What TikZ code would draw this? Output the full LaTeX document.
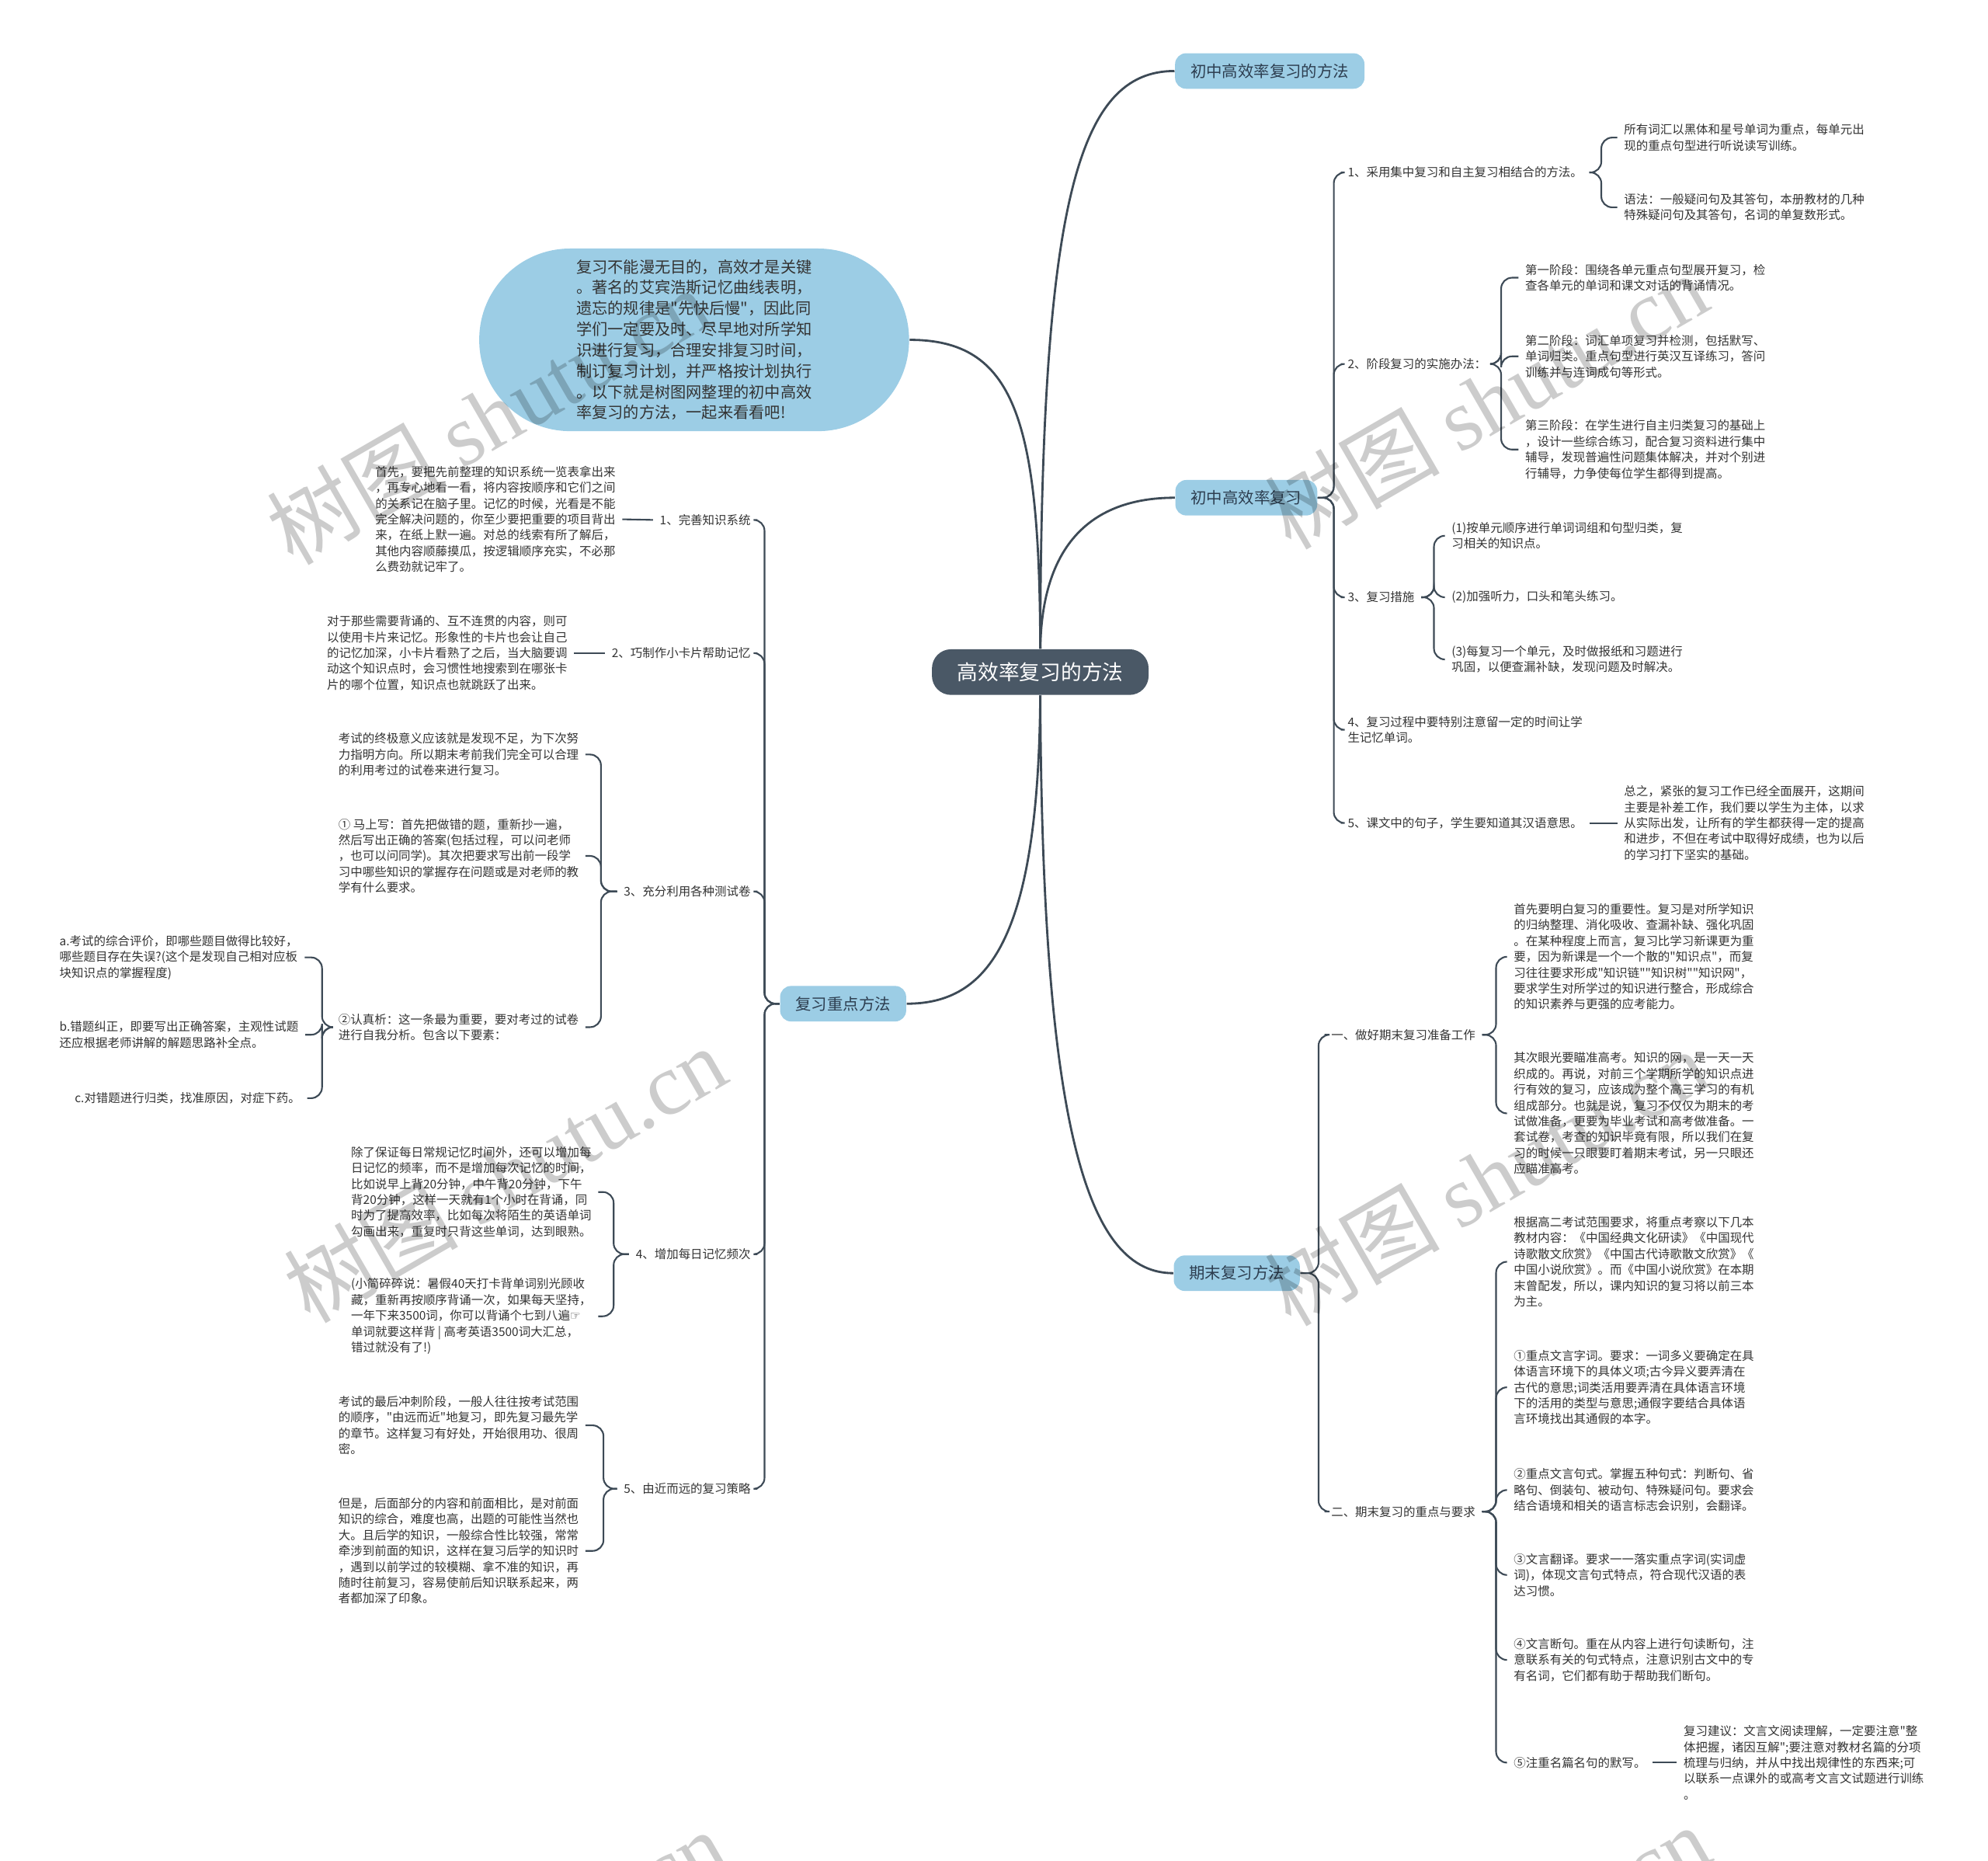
\documentclass[tikz,border=0pt]{standalone}
\usepackage{fontspec}
\setmainfont{Noto Sans CJK SC}[Ligatures=TeXOff]
\newfontfamily\symf{DejaVu Sans}
\newfontfamily\wmserif{Liberation Serif}
\definecolor{linec}{HTML}{3D4A56}
\definecolor{mainc}{HTML}{4A5866}
\definecolor{bluec}{HTML}{9CCDE5}
\definecolor{txtc}{HTML}{333333}
\definecolor{lonec}{HTML}{2D3E50}
\tikzset{
  txt/.style={font=\fontsize{4.4}{5.8}\selectfont, text=txtc, align=left, inner sep=0pt, outer xsep=2.5pt},
  tw/.style={txt, anchor=west, xshift=-2.5pt},
  te/.style={txt, anchor=east, xshift=2.5pt},
  lone/.style={rounded corners=4pt, fill=bluec, text=lonec, font=\fontsize{5.8}{7}\selectfont, minimum height=0.457cm, inner xsep=0.2cm, inner ysep=0pt},
  conn/.style={draw=linec, line width=0.6pt, rounded corners=4pt},
  mconn/.style={draw=linec, line width=0.8pt},
  wm/.style={text=black, opacity=0.2, rotate=30, font=\fontsize{32}{36}\selectfont, inner sep=0pt}
}
\begin{document}
\begin{tikzpicture}[x=0.0163265cm, y=-0.0163265cm]
\useasboundingbox (0,0) rectangle (1568,1467);

% root and level one
\node[fill=mainc, text=white, rounded corners=7pt, font=\fontsize{7.6}{9}\selectfont, minimum width=2.79cm, minimum height=0.588cm, inner sep=0pt] (root) at (820.5,530) {高效率复习的方法};
\node[lone] (A) at (1001.5,56) {初中高效率复习的方法};
\node[lone] (B) at (983,392.5) {初中高效率复习};
\node[lone] (C) at (975.5,1004) {期末复习方法};
\node[lone] (D) at (665,791.5) {复习重点方法};
\node[fill=bluec, rounded corners=1.17cm, minimum width=5.535cm, minimum height=2.351cm, inner sep=0pt, align=left, text=txtc, font=\fontsize{5.75}{7.64}\selectfont] (bub) at (547.5,268) {复习不能漫无目的，高效才是关键\\。著名的艾宾浩斯记忆曲线表明，\\遗忘的规律是"先快后慢"，因此同\\学们一定要及时、尽早地对所学知\\识进行复习，合理安排复习时间，\\制订复习计划，并严格按计划执行\\。以下就是树图网整理的初中高效\\率复习的方法，一起来看看吧!};

\draw[mconn] (root.north) .. controls (821,160) and (850,56) .. (A.west);
\draw[mconn] (root.north) .. controls (822,420) and (870,392.5) .. (B.west);
\draw[mconn] (root.south) .. controls (822,900) and (860,1004) .. (C.west);
\draw[mconn] (root.south) .. controls (819,740) and (780,791.5) .. (D.east);
\draw[mconn] (bub.east) .. controls (800,268) and (820,330) .. (root.north);

% ---------- B branch ----------
\node[tw] (b1) at (1063,136) {1、采用集中复习和自主复习相结合的方法。};
\node[tw] (b2) at (1063,287) {2、阶段复习的实施办法：};
\node[tw] (b3) at (1063,471) {3、复习措施};
\node[tw] (b4) at (1063,575.5) {4、复习过程中要特别注意留一定的时间让学\\生记忆单词。};
\node[tw] (b5) at (1063,649) {5、课文中的句子，学生要知道其汉语意思。};
\coordinate (sB) at (1052,0);
\foreach \c in {b1,b2,b3,b4,b5} \draw[conn] (B.east) -- (sB |- B.east) -- (sB |- \c.west) -- (\c.west);

\node[tw] (b1a) at (1281,108.5) {所有词汇以黑体和星号单词为重点，每单元出\\现的重点句型进行听说读写训练。};
\node[tw] (b1b) at (1281,163.5) {语法：一般疑问句及其答句，本册教材的几种\\特殊疑问句及其答句，名词的单复数形式。};
\coordinate (s1) at (1263,0);
\foreach \c in {b1a,b1b} \draw[conn] (b1.east) -- (s1 |- b1.east) -- (s1 |- \c.west) -- (\c.west);

\node[tw] (b2a) at (1203,219) {第一阶段：围绕各单元重点句型展开复习，检\\查各单元的单词和课文对话的背诵情况。};
\node[tw] (b2b) at (1203,281) {第二阶段：词汇单项复习并检测，包括默写、\\单词归类。重点句型进行英汉互译练习，答问\\训练并与连词成句等形式。};
\node[tw] (b2c) at (1203,354.5) {第三阶段：在学生进行自主归类复习的基础上\\，设计一些综合练习，配合复习资料进行集中\\辅导，发现普遍性问题集体解决，并对个别进\\行辅导，力争使每位学生都得到提高。};
\coordinate (s2) at (1184,0);
\foreach \c in {b2a,b2b,b2c} \draw[conn] (b2.east) -- (s2 |- b2.east) -- (s2 |- \c.west) -- (\c.west);

\node[tw] (b3a) at (1145,422.5) {(1)按单元顺序进行单词词组和句型归类，复\\习相关的知识点。};
\node[tw] (b3b) at (1145,471) {(2)加强听力，口头和笔头练习。};
\node[tw] (b3c) at (1145,520) {(3)每复习一个单元，及时做报纸和习题进行\\巩固，以便查漏补缺，发现问题及时解决。};
\coordinate (s3) at (1131,0);
\foreach \c in {b3a,b3b,b3c} \draw[conn] (b3.east) -- (s3 |- b3.east) -- (s3 |- \c.west) -- (\c.west);

\node[tw] (b5a) at (1281,649) {总之，紧张的复习工作已经全面展开，这期间\\主要是补差工作，我们要以学生为主体，以求\\从实际出发，让所有的学生都获得一定的提高\\和进步，不但在考试中取得好成绩，也为以后\\的学习打下坚实的基础。};
\draw[conn] (b5.east) -- (b5a.west);

% ---------- C branch ----------
\node[tw] (c1) at (1050,816) {一、做好期末复习准备工作};
\node[tw] (c2) at (1050,1192) {二、期末复习的重点与要求};
\coordinate (sC) at (1040,0);
\foreach \c in {c1,c2} \draw[conn] (C.east) -- (sC |- C.east) -- (sC |- \c.west) -- (\c.west);

\node[tw] (c1a) at (1194,754.5) {首先要明白复习的重要性。复习是对所学知识\\的归纳整理、消化吸收、查漏补缺、强化巩固\\。在某种程度上而言，复习比学习新课更为重\\要，因为新课是一个一个散的"知识点"，而复\\习往往要求形成"知识链""知识树""知识网"，\\要求学生对所学过的知识进行整合，形成综合\\的知识素养与更强的应考能力。};
\node[tw] (c1b) at (1194,878) {其次眼光要瞄准高考。知识的网，是一天一天\\织成的。再说，对前三个学期所学的知识点进\\行有效的复习，应该成为整个高三学习的有机\\组成部分。也就是说，复习不仅仅为期末的考\\试做准备，更要为毕业考试和高考做准备。一\\套试卷，考查的知识毕竟有限，所以我们在复\\习的时候一只眼要盯着期末考试，另一只眼还\\应瞄准高考。};
\coordinate (sc1) at (1180,0);
\foreach \c in {c1a,c1b} \draw[conn] (c1.east) -- (sc1 |- c1.east) -- (sc1 |- \c.west) -- (\c.west);

\node[tw] (c2a) at (1194,995) {根据高二考试范围要求，将重点考察以下几本\\教材内容：《中国经典文化研读》《中国现代\\诗歌散文欣赏》《中国古代诗歌散文欣赏》《\\中国小说欣赏》。而《中国小说欣赏》在本期\\末曾配发，所以，课内知识的复习将以前三本\\为主。};
\node[tw] (c2b) at (1194,1094) {①重点文言字词。要求：一词多义要确定在具\\体语言环境下的具体义项;古今异义要弄清在\\古代的意思;词类活用要弄清在具体语言环境\\下的活用的类型与意思;通假字要结合具体语\\言环境找出其通假的本字。};
\node[tw] (c2c) at (1194,1175) {②重点文言句式。掌握五种句式：判断句、省\\略句、倒装句、被动句、特殊疑问句。要求会\\结合语境和相关的语言标志会识别，会翻译。};
\node[tw] (c2d) at (1194,1242) {③文言翻译。要求一一落实重点字词(实词虚\\词)，体现文言句式特点，符合现代汉语的表\\达习惯。};
\node[tw] (c2e) at (1194,1309) {④文言断句。重在从内容上进行句读断句，注\\意联系有关的句式特点，注意识别古文中的专\\有名词，它们都有助于帮助我们断句。};
\node[tw] (c2f) at (1194,1390) {⑤注重名篇名句的默写。};
\coordinate (sc2) at (1180,0);
\foreach \c in {c2a,c2b,c2c,c2d,c2e,c2f} \draw[conn] (c2.east) -- (sc2 |- c2.east) -- (sc2 |- \c.west) -- (\c.west);
\node[tw] (c2fa) at (1328,1390) {复习建议：文言文阅读理解，一定要注意"整\\体把握，诸因互解";要注意对教材名篇的分项\\梳理与归纳，并从中找出规律性的东西来;可\\以联系一点课外的或高考文言文试题进行训练\\。};
\draw[conn] (c2f.east) -- (c2fa.west);

% ---------- D branch ----------
\node[te] (d1) at (592,410) {1、完善知识系统};
\node[te] (d2) at (592,515) {2、巧制作小卡片帮助记忆};
\node[te] (d3) at (592,703) {3、充分利用各种测试卷};
\node[te] (d4) at (592,989) {4、增加每日记忆频次};
\node[te] (d5) at (592,1174) {5、由近而远的复习策略};
\coordinate (sD) at (603,0);
\foreach \c in {d1,d2,d3,d4,d5} \draw[conn] (D.west) -- (sD |- D.west) -- (sD |- \c.east) -- (\c.east);

\node[tw] (d1a) at (296,409.5) {首先，要把先前整理的知识系统一览表拿出来\\，再专心地看一看，将内容按顺序和它们之间\\的关系记在脑子里。记忆的时候，光看是不能\\完全解决问题的，你至少要把重要的项目背出\\来，在纸上默一遍。对总的线索有所了解后，\\其他内容顺藤摸瓜，按逻辑顺序充实，不必那\\么费劲就记牢了。};
\draw[conn] (d1.west) -- (d1a.east);

\node[tw] (d2a) at (258,515) {对于那些需要背诵的、互不连贯的内容，则可\\以使用卡片来记忆。形象性的卡片也会让自己\\的记忆加深，小卡片看熟了之后，当大脑要调\\动这个知识点时，会习惯性地搜索到在哪张卡\\片的哪个位置，知识点也就跳跃了出来。};
\draw[conn] (d2.west) -- (d2a.east);

\node[tw] (d3a) at (267,595) {考试的终极意义应该就是发现不足，为下次努\\力指明方向。所以期末考前我们完全可以合理\\的利用考过的试卷来进行复习。};
\node[tw] (d3b) at (267,675) {① 马上写：首先把做错的题，重新抄一遍，\\然后写出正确的答案(包括过程，可以问老师\\，也可以问同学)。其次把要求写出前一段学\\习中哪些知识的掌握存在问题或是对老师的教\\学有什么要求。};
\node[tw] (d3c) at (267,810) {②认真析：这一条最为重要，要对考过的试卷\\进行自我分析。包含以下要素：};
\coordinate (sd3) at (474,0);
\foreach \c in {d3a,d3b,d3c} \draw[conn] (d3.west) -- (sd3 |- d3.west) -- (sd3 |- \c.east) -- (\c.east);

\node[tw] (d3c1) at (47,755) {a.考试的综合评价，即哪些题目做得比较好，\\哪些题目存在失误?(这个是发现自己相对应板\\块知识点的掌握程度)};
\node[tw] (d3c2) at (47,816) {b.错题纠正，即要写出正确答案，主观性试题\\还应根据老师讲解的解题思路补全点。};
\node[tw] (d3c3) at (59,866) {c.对错题进行归类，找准原因，对症下药。};
\coordinate (sd3c) at (254,0);
\foreach \c in {d3c1,d3c2,d3c3} \draw[conn] (d3c.west) -- (sd3c |- d3c.west) -- (sd3c |- \c.east) -- (\c.east);

\node[tw] (d4a) at (277,940) {除了保证每日常规记忆时间外，还可以增加每\\日记忆的频率，而不是增加每次记忆的时间，\\比如说早上背20分钟，中午背20分钟，下午\\背20分钟，这样一天就有1个小时在背诵，同\\时为了提高效率，比如每次将陌生的英语单词\\勾画出来，重复时只背这些单词，达到眼熟。};
\node[tw] (d4b) at (277,1038) {(小简碎碎说：暑假40天打卡背单词别光顾收\\藏，重新再按顺序背诵一次，如果每天坚持，\\一年下来3500词，你可以背诵个七到八遍{\symf ☞}\\单词就要这样背 | 高考英语3500词大汇总，\\错过就没有了!)};
\coordinate (sd4) at (484,0);
\foreach \c in {d4a,d4b} \draw[conn] (d4.west) -- (sd4 |- d4.west) -- (sd4 |- \c.east) -- (\c.east);

\node[tw] (d5a) at (267,1124) {考试的最后冲刺阶段，一般人往往按考试范围\\的顺序，"由远而近"地复习，即先复习最先学\\的章节。这样复习有好处，开始很用功、很周\\密。};
\node[tw] (d5b) at (267,1223) {但是，后面部分的内容和前面相比，是对前面\\知识的综合，难度也高，出题的可能性当然也\\大。且后学的知识，一般综合性比较强，常常\\牵涉到前面的知识，这样在复习后学的知识时\\，遇到以前学过的较模糊、拿不准的知识，再\\随时往前复习，容易使前后知识联系起来，两\\者都加深了印象。};
\coordinate (sd5) at (476,0);
\foreach \c in {d5a,d5b} \draw[conn] (d5.west) -- (sd5 |- d5.west) -- (sd5 |- \c.east) -- (\c.east);

% ---------- watermarks ----------
\foreach \wx/\wy [count=\i] in {385/328, 1172/316, 398/926, 1172/928, 398/1544, 1174/1540}
  \node[wm] (wm\i) at (\wx,\wy) {树图 {\wmserif shutu.cn}};
\end{tikzpicture}
\end{document}
